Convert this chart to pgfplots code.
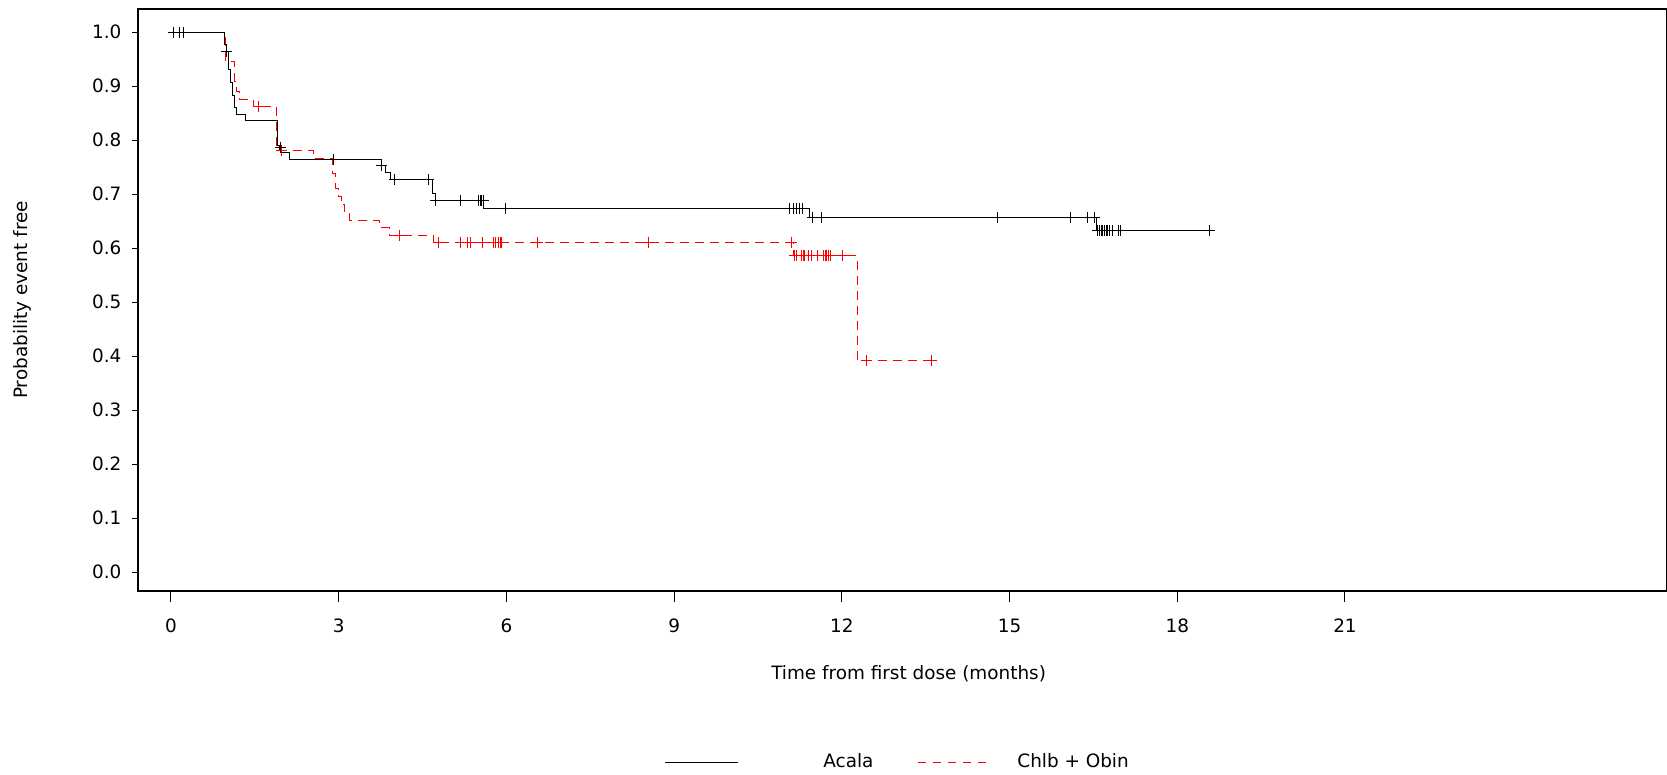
\documentclass[border=0pt]{standalone}
\usepackage{pgfplots}
\pgfplotsset{compat=1.18}
\usepackage{fontspec}
\setmainfont{DejaVu Sans}
\begin{document}
\fontsize{9.2pt}{11pt}\selectfont
\begin{tikzpicture}
\begin{axis}[
  at={(69pt,92pt)}, anchor=south west,
  scale only axis, width=764.5pt, height=291pt,
  xmin=-0.59, xmax=26.76, ymin=-0.035, ymax=1.043,
  axis line style={line width=1.4pt},
  tick align=outside,
  tick pos=left,
  xtick={0,3,6,9,12,15,18,21},
  ytick={0,0.1,0.2,0.3,0.4,0.5,0.6,0.7,0.8,0.9,1.0},
  xtick style={black, line width=0.5pt, /pgfplots/major tick length=5.5pt},
  ytick style={black, line width=0.5pt, /pgfplots/major tick length=3pt},
  minor tick num=0,
  /pgf/number format/assume math mode=true,
  xticklabel style={yshift=-6.4pt},
  yticklabel style={xshift=-0.8pt, /pgf/number format/.cd, fixed, fixed zerofill, precision=1},
  xlabel={Time from first dose (months)},
  ylabel={Probability event free},
  xlabel style={at={(axis description cs:0.504,-0.1426)}, anchor=center},
  ylabel style={at={(axis description cs:-0.0759,0.5)}, anchor=center},
  legend columns=2,
  reverse legend,
  legend style={at={(axis description cs:0.344,-0.294)}, anchor=west, draw=none, fill=none,
    inner sep=0pt, nodes={inner sep=0pt},
    /tikz/every even column/.append style={column sep=22pt}},
]
% Chlb + Obin
\addplot[red, line width=0.5pt, dash pattern=on 4.5pt off 3pt, const plot,
  legend image code/.code={\draw[red, line width=0.5pt, dash pattern=on 4pt off 3.5pt] (0pt,0pt) -- (35.5pt,0pt); \path (0pt,0pt) (49.5pt,0pt);}]
  table {
0 1.0
0.984 0.945
1.145 0.908
1.175 0.890
1.234 0.876
1.473 0.863
1.890 0.781
2.546 0.766
2.886 0.738
2.940 0.710
2.990 0.695
3.050 0.680
3.100 0.667
3.200 0.652
3.730 0.638
3.900 0.624
4.690 0.610
11.130 0.586
12.280 0.392
13.600 0.392
};
\addlegendentry{Chlb + Obin}
\addplot[red, only marks, mark=+, mark size=2.75pt, mark options={solid, line width=0.5pt}, forget plot]
  table {
1.562 0.863
1.98 0.781
4.085 0.624
4.78 0.610
5.18 0.610
5.30 0.610
5.36 0.610
5.58 0.610
5.77 0.610
5.81 0.610
5.86 0.610
5.89 0.610
5.92 0.610
6.55 0.610
8.54 0.610
11.10 0.610
11.15 0.586
11.18 0.586
11.28 0.586
11.31 0.586
11.34 0.586
11.40 0.586
11.46 0.586
11.57 0.586
11.67 0.586
11.70 0.586
11.73 0.586
11.76 0.586
11.79 0.586
12.02 0.586
12.44 0.392
13.60 0.392
};
% Acala
\addplot[black, line width=0.5pt, const plot,
  legend image code/.code={\draw[black, line width=0.5pt] (0pt,0pt) -- (36.5pt,0pt); \path (0pt,0pt) (79pt,0pt);}]
  table {
0 1.0
0.966 0.978
0.99 0.965
1.025 0.931
1.068 0.907
1.103 0.883
1.139 0.861
1.175 0.848
1.330 0.836
1.900 0.791
1.935 0.781
1.980 0.777
2.117 0.764
3.770 0.754
3.846 0.740
3.918 0.727
4.675 0.701
4.735 0.688
5.590 0.673
11.430 0.656
16.560 0.633
18.570 0.633
};
\addlegendentry{Acala}
\addplot[black, only marks, mark=+, mark size=2.75pt, mark options={solid, line width=0.5pt}, forget plot]
  table {
0.05 1.0
0.15 1.0
0.22 1.0
0.996 0.965
1.95 0.787
2.90 0.764
3.77 0.754
3.995 0.727
4.615 0.727
4.735 0.688
5.18 0.688
5.50 0.688
5.53 0.688
5.56 0.688
5.585 0.688
5.99 0.673
11.07 0.673
11.13 0.673
11.19 0.673
11.25 0.673
11.30 0.673
11.47 0.656
11.64 0.656
14.79 0.656
16.09 0.656
16.40 0.656
16.52 0.656
16.58 0.633
16.61 0.633
16.64 0.633
16.67 0.633
16.70 0.633
16.73 0.633
16.76 0.633
16.79 0.633
16.85 0.633
16.95 0.633
16.98 0.633
18.57 0.633
};
\end{axis}
\pgfresetboundingbox
\path[use as bounding box] (0pt,0pt) rectangle (833.5pt,387.5pt);
\end{tikzpicture}
\end{document}
